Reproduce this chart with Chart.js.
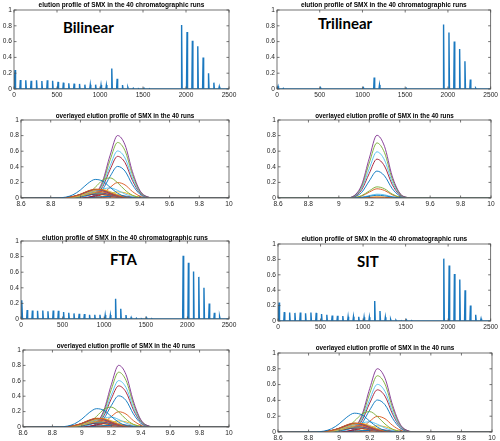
<!DOCTYPE html>
<html><head><meta charset="utf-8">
<script src="https://cdn.jsdelivr.net/npm/chart.js@4.4.1/dist/chart.umd.min.js"></script>
<style>
html,body{margin:0;padding:0;background:#fff;width:500px;height:441px;overflow:hidden;position:relative}
canvas{position:absolute}
.lab{position:absolute;font-family:Lato,'Liberation Sans',Arial,sans-serif;font-weight:bold;font-size:15px;line-height:15px;color:#000;white-space:nowrap}
</style></head><body>
<div class="lab" style="left:63px;top:20px">Bilinear</div>
<div class="lab" style="left:318px;top:16px">Trilinear</div>
<div class="lab" style="left:110px;top:252px">FTA</div>
<div class="lab" style="left:357px;top:254px">SIT</div>
<script>
// ---------- tick labels ----------
const elutionXTicks = [0, 500, 1000, 1500, 2000, 2500];
const overlayXTicks = [8.6, 8.8, 9, 9.2, 9.4, 9.6, 9.8, 10];
const yTicks = [0, 0.2, 0.4, 0.6, 0.8, 1];

// ---------- elution profile: 40 runs (peak index position, peak height) ----------
const runPositions = [12, 74, 137, 199, 262, 324, 387, 449, 512, 574, 637, 699, 762, 824, 887, 949, 1012, 1074, 1137, 1199,
  1262, 1324, 1387, 1449, 1512, 1574, 1637, 1699, 1762, 1824, 1887, 1949, 2012, 2074, 2137, 2199, 2262, 2324, 2387, 2449];
const bilinearPeaks = [0.24, 0.115, 0.11, 0.105, 0.11, 0.10, 0.11, 0.105, 0.09, 0.08, 0.072, 0.068, 0.064, 0.055, 0.055, 0.055, 0.05, 0.05, 0.26, 0.13,
  0.05, 0.02, 0.01, 0.004, 0.01, 0.004, 0, 0, 0, 0, 0, 0.81, 0.72, 0.61, 0.54, 0.40, 0.20, 0.08, 0.03, 0];
const trilinearPeaks = [0.035, 0.008, 0, 0, 0, 0, 0, 0, 0.01, 0, 0, 0, 0, 0, 0, 0, 0.015, 0, 0.145, 0.05,
  0, 0, 0, 0, 0.01, 0, 0, 0, 0, 0, 0, 0.815, 0.715, 0.60, 0.505, 0.35, 0.12, 0.01, 0, 0];
const ftaPeaks = [0.24, 0.115, 0.11, 0.105, 0.11, 0.10, 0.11, 0.105, 0.09, 0.08, 0.072, 0.068, 0.064, 0.055, 0.055, 0.055, 0.05, 0.05, 0.26, 0.13,
  0.05, 0.02, 0.01, 0.004, 0.01, 0.004, 0, 0, 0, 0, 0, 0.81, 0.72, 0.61, 0.54, 0.40, 0.20, 0.08, 0.03, 0];
const sitPeaks = [0.24, 0.115, 0.11, 0.105, 0.11, 0.10, 0.11, 0.105, 0.09, 0.08, 0.072, 0.068, 0.064, 0.055, 0.055, 0.055, 0.05, 0.05, 0.26, 0.13,
  0.05, 0.02, 0.01, 0.004, 0.01, 0.004, 0, 0, 0, 0, 0, 0.81, 0.72, 0.61, 0.54, 0.40, 0.20, 0.08, 0.03, 0];

// ---------- overlayed profiles: retention time grid ----------
const overlayTime = [8.6, 8.85, 8.9, 8.95, 9.0, 9.05, 9.1, 9.15, 9.2, 9.25, 9.3, 9.35, 9.4, 9.45, 9.5, 9.55, 10];

// runs shown in Bilinear / FTA / SIT overlays (identical-looking)
const sharedRuns = [0, 1, 2, 3, 4, 5, 6, 7, 8, 9, 10, 11, 12, 13, 14, 15, 16, 17, 18, 19, 20, 21, 22, 31, 32, 33, 34, 35, 36, 37, 38];
const sharedProfiles = [
  [0, 0.002, 0.011, 0.041, 0.103, 0.187, 0.238, 0.216, 0.137, 0.062, 0.019, 0.005, 0.001, 0, 0, 0, 0],
  [0, 0.001, 0.005, 0.02, 0.049, 0.09, 0.114, 0.104, 0.066, 0.03, 0.009, 0.002, 0, 0, 0, 0, 0],
  [0, 0, 0.002, 0.01, 0.031, 0.067, 0.101, 0.108, 0.082, 0.044, 0.017, 0.005, 0.001, 0, 0, 0, 0],
  [0, 0.001, 0.005, 0.018, 0.045, 0.082, 0.104, 0.095, 0.06, 0.027, 0.008, 0.002, 0, 0, 0, 0, 0],
  [0, 0.001, 0.005, 0.019, 0.047, 0.086, 0.109, 0.099, 0.063, 0.029, 0.009, 0.002, 0, 0, 0, 0, 0],
  [0, 0, 0.002, 0.009, 0.028, 0.061, 0.092, 0.098, 0.075, 0.04, 0.015, 0.004, 0.001, 0, 0, 0, 0],
  [0, 0.001, 0.005, 0.019, 0.047, 0.086, 0.109, 0.099, 0.063, 0.029, 0.009, 0.002, 0, 0, 0, 0, 0],
  [0, 0.001, 0.005, 0.018, 0.045, 0.082, 0.104, 0.095, 0.06, 0.027, 0.008, 0.002, 0, 0, 0, 0, 0],
  [0, 0.001, 0.004, 0.015, 0.039, 0.07, 0.089, 0.081, 0.051, 0.023, 0.007, 0.002, 0, 0, 0, 0, 0],
  [0, 0, 0.002, 0.008, 0.023, 0.049, 0.074, 0.079, 0.06, 0.032, 0.012, 0.003, 0.001, 0, 0, 0, 0],
  [0, 0.001, 0.003, 0.012, 0.031, 0.056, 0.071, 0.065, 0.041, 0.019, 0.006, 0.001, 0, 0, 0, 0, 0],
  [0, 0.001, 0.003, 0.012, 0.029, 0.053, 0.067, 0.061, 0.039, 0.018, 0.005, 0.001, 0, 0, 0, 0, 0],
  [0, 0.001, 0.003, 0.011, 0.028, 0.05, 0.063, 0.058, 0.036, 0.017, 0.005, 0.001, 0, 0, 0, 0, 0],
  [0, 0, 0.003, 0.009, 0.024, 0.043, 0.054, 0.05, 0.031, 0.014, 0.004, 0.001, 0, 0, 0, 0, 0],
  [0, 0, 0.001, 0.005, 0.016, 0.033, 0.051, 0.054, 0.041, 0.022, 0.008, 0.002, 0, 0, 0, 0, 0],
  [0, 0, 0.003, 0.009, 0.024, 0.043, 0.054, 0.05, 0.031, 0.014, 0.004, 0.001, 0, 0, 0, 0, 0],
  [0, 0, 0.002, 0.009, 0.022, 0.039, 0.05, 0.045, 0.029, 0.013, 0.004, 0.001, 0, 0, 0, 0, 0],
  [0, 0, 0.002, 0.009, 0.022, 0.039, 0.05, 0.045, 0.029, 0.013, 0.004, 0.001, 0, 0, 0, 0, 0],
  [0, 0, 0.001, 0.003, 0.016, 0.056, 0.138, 0.229, 0.258, 0.196, 0.101, 0.035, 0.008, 0.001, 0, 0, 0],
  [0, 0, 0, 0.001, 0.008, 0.028, 0.069, 0.114, 0.129, 0.098, 0.051, 0.018, 0.004, 0.001, 0, 0, 0],
  [0, 0, 0, 0.001, 0.003, 0.011, 0.027, 0.044, 0.05, 0.038, 0.019, 0.007, 0.002, 0, 0, 0, 0],
  [0, 0, 0, 0, 0.001, 0.004, 0.011, 0.018, 0.02, 0.015, 0.008, 0.003, 0.001, 0, 0, 0, 0],
  [0, 0, 0, 0, 0, 0.002, 0.005, 0.009, 0.01, 0.008, 0.004, 0.001, 0, 0, 0, 0, 0],
  [0, 0, 0, 0, 0, 0.006, 0.051, 0.219, 0.549, 0.801, 0.681, 0.337, 0.097, 0.016, 0.002, 0, 0],
  [0, 0, 0, 0, 0, 0.006, 0.045, 0.194, 0.488, 0.712, 0.606, 0.3, 0.086, 0.014, 0.001, 0, 0],
  [0, 0, 0, 0, 0, 0.005, 0.038, 0.165, 0.414, 0.603, 0.513, 0.254, 0.073, 0.012, 0.001, 0, 0],
  [0, 0, 0, 0, 0, 0.004, 0.034, 0.146, 0.366, 0.534, 0.454, 0.225, 0.065, 0.011, 0.001, 0, 0],
  [0, 0, 0, 0, 0, 0.003, 0.026, 0.111, 0.278, 0.405, 0.345, 0.171, 0.049, 0.008, 0.001, 0, 0],
  [0, 0, 0, 0, 0, 0.002, 0.013, 0.054, 0.136, 0.198, 0.168, 0.083, 0.024, 0.004, 0, 0, 0],
  [0, 0, 0, 0, 0, 0.001, 0.005, 0.022, 0.054, 0.079, 0.067, 0.033, 0.01, 0.002, 0, 0, 0],
  [0, 0, 0, 0, 0, 0, 0.002, 0.008, 0.02, 0.03, 0.025, 0.012, 0.004, 0.001, 0, 0, 0]
];

// runs shown in the Trilinear overlay
const trilinearRuns = [0, 8, 16, 18, 19, 31, 32, 33, 34, 35, 36];
const trilinearProfiles = [
  [0, 0, 0, 0, 0, 0, 0.001, 0.007, 0.022, 0.035, 0.028, 0.012, 0.003, 0, 0, 0, 0],
  [0, 0, 0, 0, 0, 0, 0, 0.002, 0.006, 0.01, 0.008, 0.003, 0.001, 0, 0, 0, 0],
  [0, 0, 0, 0, 0, 0, 0.001, 0.003, 0.009, 0.015, 0.012, 0.005, 0.001, 0, 0, 0, 0],
  [0, 0, 0, 0, 0, 0, 0.005, 0.03, 0.091, 0.143, 0.118, 0.051, 0.011, 0.001, 0, 0, 0],
  [0, 0, 0, 0, 0, 0, 0.002, 0.01, 0.031, 0.049, 0.041, 0.017, 0.004, 0, 0, 0, 0],
  [0, 0, 0, 0, 0, 0.002, 0.029, 0.169, 0.51, 0.804, 0.662, 0.284, 0.064, 0.007, 0, 0, 0],
  [0, 0, 0, 0, 0, 0.002, 0.026, 0.148, 0.448, 0.706, 0.581, 0.25, 0.056, 0.006, 0, 0, 0],
  [0, 0, 0, 0, 0, 0.002, 0.022, 0.124, 0.376, 0.592, 0.487, 0.209, 0.047, 0.005, 0, 0, 0],
  [0, 0, 0, 0, 0, 0.002, 0.018, 0.105, 0.316, 0.498, 0.41, 0.176, 0.039, 0.005, 0, 0, 0],
  [0, 0, 0, 0, 0, 0.001, 0.013, 0.072, 0.219, 0.345, 0.284, 0.122, 0.027, 0.003, 0, 0, 0],
  [0, 0, 0, 0, 0, 0, 0.004, 0.025, 0.075, 0.118, 0.097, 0.042, 0.009, 0.001, 0, 0, 0]
];

// ---------- titles ----------
const elutionTitle = 'elution profile of SMX in the 40 chromatographic runs';
const overlayTitle = 'overlayed elution profile of SMX in the 40 runs';

// ---------- styling ----------
const palette = ['#0072BD', '#D95319', '#EDB120', '#7E2F8E', '#77AC30', '#4DBEEE', '#A2142F'];
const FONT = "'Liberation Sans', Arial, Helvetica, sans-serif";
const SPIKE_HALF = 6;  // half-width (in index units) of each drawn elution spike

const boxPlugin = {
  id: 'mBox',
  afterDraw(chart) {
    const {ctx, chartArea: a} = chart;
    const x = chart.scales.x, y = chart.scales.y;
    ctx.save();
    ctx.strokeStyle = '#505050';
    ctx.lineWidth = 0.8;
    ctx.strokeRect(a.left, a.top, a.right - a.left, a.bottom - a.top);
    ctx.beginPath();
    const tl = 2.5;
    x.ticks.forEach(t => {
      const p = x.getPixelForValue(t.value);
      ctx.moveTo(p, a.bottom); ctx.lineTo(p, a.bottom - tl);
      ctx.moveTo(p, a.top); ctx.lineTo(p, a.top + tl);
    });
    y.ticks.forEach(t => {
      const p = y.getPixelForValue(t.value);
      ctx.moveTo(a.left, p); ctx.lineTo(a.left + tl, p);
      ctx.moveTo(a.right, p); ctx.lineTo(a.right - tl, p);
    });
    ctx.stroke();
    ctx.restore();
  }
};

function elutionPoints(peaks) {
  const pts = [{x: 0, y: 0}];
  runPositions.forEach((pos, i) => {
    pts.push({x: pos - SPIKE_HALF, y: 0});
    pts.push({x: pos, y: peaks[i]});
    pts.push({x: pos + SPIKE_HALF, y: 0});
  });
  pts.push({x: 2500, y: 0});
  return pts;
}

function makePanel(p) {
  const padL = Math.min(20, p.L);
  const padR = p.right ? (500 - p.R) : 12;
  const canvasTop = p.tc - 4;
  const padT = p.T - canvasTop;
  const padB = 11;
  const w = padL + (p.R - p.L) + padR;
  const h = padT + (p.B - p.T) + padB;
  const cv = document.createElement('canvas');
  cv.width = w; cv.height = h;
  cv.style.left = (p.L - padL) + 'px';
  cv.style.top = canvasTop + 'px';
  cv.style.width = w + 'px'; cv.style.height = h + 'px';
  document.body.appendChild(cv);

  const isElution = p.kind === 'elution';
  let datasets;
  if (isElution) {
    datasets = [{
      data: elutionPoints(p.peaks),
      borderColor: '#1a78bf',
      borderWidth: 1.4,
      pointRadius: 0,
      fill: false,
      tension: 0
    }];
  } else {
    datasets = p.runs.map((k, j) => ({
      data: overlayTime.map((t, i) => ({x: t, y: p.profiles[j][i]})),
      borderColor: palette[k % 7],
      borderWidth: 0.9,
      pointRadius: 0,
      fill: false,
      cubicInterpolationMode: 'monotone'
    }));
  }
  const xt = isElution ? elutionXTicks : overlayXTicks;
  new Chart(cv, {
    type: 'line',
    data: {datasets},
    plugins: [boxPlugin],
    options: {
      responsive: false,
      animation: false,
      devicePixelRatio: 1,
      layout: {padding: {left: 0, right: padR, top: 0, bottom: 0}},
      plugins: {
        legend: {display: false},
        tooltip: {enabled: false},
        title: {
          display: true,
          text: isElution ? elutionTitle : overlayTitle,
          fullSize: false,
          color: '#000',
          font: {family: FONT, size: isElution ? 6.5 : 6.3, weight: 'bold', lineHeight: '6px'},
          padding: {top: 1, bottom: padT - 7}
        }
      },
      scales: {
        x: {
          type: 'linear',
          min: isElution ? 0 : 8.6,
          max: isElution ? 2500 : 10,
          offset: false,
          grid: {display: false, drawTicks: false, offset: false},
          border: {display: false},
          ticks: {padding: 2, color: '#262626', font: {family: FONT, size: 6.6}, maxRotation: 0, autoSkip: false,
                  callback: v => String(v)},
          afterBuildTicks: s => { s.ticks = xt.map(v => ({value: v})); },
          afterFit: s => { s.height = padB; }
        },
        y: {
          type: 'linear',
          min: 0, max: 1,
          grid: {display: false, drawTicks: false},
          border: {display: false},
          ticks: {padding: 2, color: '#262626', font: {family: FONT, size: 6.6}, callback: v => String(v)},
          afterBuildTicks: s => { s.ticks = yTicks.map(v => ({value: v})); },
          afterFit: s => { s.width = padL; }
        }
      }
    }
  });
}

const panels = [
  {kind: 'elution', peaks: bilinearPeaks, L: 14, R: 229, T: 10, B: 89, tc: 5},
  {kind: 'overlay', runs: sharedRuns, profiles: sharedProfiles, L: 21, R: 229, T: 120, B: 198, tc: 116},
  {kind: 'elution', peaks: trilinearPeaks, L: 277, R: 491, T: 10, B: 89, tc: 5, right: true},
  {kind: 'overlay', runs: trilinearRuns, profiles: trilinearProfiles, L: 278, R: 491, T: 120, B: 198, tc: 116, right: true},
  {kind: 'elution', peaks: ftaPeaks, L: 21, R: 229, T: 241, B: 319, tc: 238},
  {kind: 'overlay', runs: sharedRuns, profiles: sharedProfiles, L: 23, R: 229, T: 350, B: 427, tc: 346},
  {kind: 'elution', peaks: sitPeaks, L: 278, R: 492, T: 244, B: 321, tc: 239, right: true},
  {kind: 'overlay', runs: sharedRuns, profiles: sharedProfiles, L: 278, R: 492, T: 353, B: 432, tc: 348, right: true}
];
panels.forEach(makePanel);
</script>
</body></html>
